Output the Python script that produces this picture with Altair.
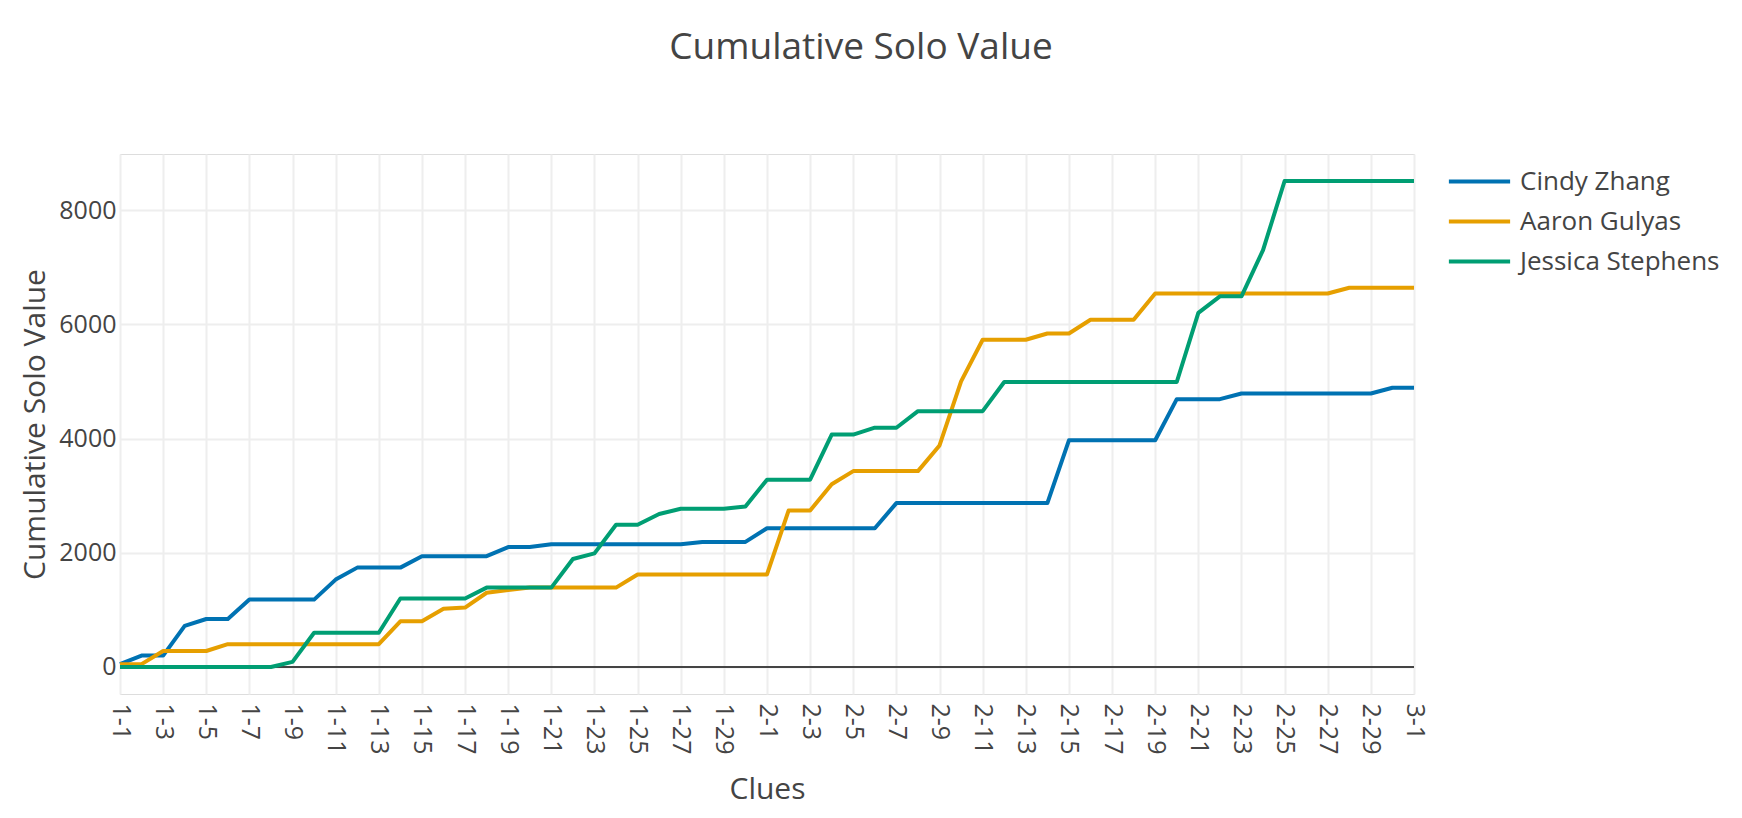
import altair as alt
import pandas as pd

clues = [
    "1-1", "1-2", "1-3", "1-4", "1-5", "1-6", "1-7", "1-8", "1-9", "1-10",
    "1-11", "1-12", "1-13", "1-14", "1-15", "1-16", "1-17", "1-18", "1-19", "1-20",
    "1-21", "1-22", "1-23", "1-24", "1-25", "1-26", "1-27", "1-28", "1-29", "1-30",
    "2-1", "2-2", "2-3", "2-4", "2-5", "2-6", "2-7", "2-8", "2-9", "2-10",
    "2-11", "2-12", "2-13", "2-14", "2-15", "2-16", "2-17", "2-18", "2-19", "2-20",
    "2-21", "2-22", "2-23", "2-24", "2-25", "2-26", "2-27", "2-28", "2-29", "2-30",
    "3-1",
]

cindy = [
    50, 200, 200, 720, 840, 840, 1180, 1180, 1180, 1180,
    1530, 1740, 1740, 1740, 1940, 1940, 1940, 1940, 2100, 2100,
    2150, 2150, 2150, 2150, 2150, 2150, 2150, 2190, 2190, 2190,
    2430, 2430, 2430, 2430, 2430, 2430, 2870, 2870, 2870, 2870,
    2870, 2870, 2870, 2870, 3970, 3970, 3970, 3970, 3970, 4690,
    4690, 4690, 4790, 4790, 4790, 4790, 4790, 4790, 4790, 4890,
    4890,
]

aaron = [
    50, 50, 280, 280, 280, 400, 400, 400, 400, 400,
    400, 400, 400, 800, 800, 1020, 1040, 1300, 1350, 1390,
    1390, 1390, 1390, 1390, 1620, 1620, 1620, 1620, 1620, 1620,
    1620, 2740, 2740, 3200, 3430, 3430, 3430, 3430, 3880, 5000,
    5730, 5730, 5730, 5840, 5840, 6080, 6080, 6080, 6540, 6540,
    6540, 6540, 6540, 6540, 6540, 6540, 6540, 6640, 6640, 6640,
    6640,
]

jessica = [
    0, 0, 0, 0, 0, 0, 0, 0, 90, 600,
    600, 600, 600, 1200, 1200, 1200, 1200, 1390, 1390, 1390,
    1390, 1890, 1990, 2490, 2490, 2680, 2770, 2770, 2770, 2810,
    3280, 3280, 3280, 4070, 4070, 4190, 4190, 4480, 4480, 4480,
    4480, 4990, 4990, 4990, 4990, 4990, 4990, 4990, 4990, 4990,
    6200, 6490, 6490, 7300, 8510, 8510, 8510, 8510, 8510, 8510,
    8510,
]

names = ["Cindy Zhang", "Aaron Gulyas", "Jessica Stephens"]
colors = ["#0072B2", "#E69F00", "#009E73"]
y_ticks = [0, 2000, 4000, 6000, 8000]

rows = []
for name, vals in zip(names, [cindy, aaron, jessica]):
    for c, v in zip(clues, vals):
        rows.append({"clue": c, "value": v, "player": name})
df = pd.DataFrame(rows)

FONT = "Open Sans"
TXT = "#444444"
Y_DOMAIN = [-473, 8983]

x_enc = alt.X(
    "clue:O",
    sort=clues,
    scale=alt.Scale(type="point", padding=0, domain=clues),
    axis=alt.Axis(
        title="Clues",
        values=clues[::2],
        labelAngle=90,
        labelFontSize=25,
        labelFont=FONT,
        labelColor=TXT,
        labelPadding=9,
        titleFontSize=30,
        titleFont=FONT,
        titleColor=TXT,
        titleFontWeight="normal",
        titlePadding=21,
        domain=False,
        ticks=False,
        grid=True,
        gridColor="#eeeeee",
        gridWidth=2,
    ),
)

y_enc = alt.Y(
    "value:Q",
    scale=alt.Scale(domain=Y_DOMAIN, nice=False, zero=False),
    axis=alt.Axis(
        title="Cumulative Solo Value",
        values=y_ticks,
        format="d",
        labelFontSize=25,
        labelFont=FONT,
        labelColor=TXT,
        labelPadding=4,
        titleFontSize=30,
        titleFont=FONT,
        titleColor=TXT,
        titleFontWeight="normal",
        titlePadding=8,
        domain=False,
        ticks=False,
        grid=True,
        gridColor="#eeeeee",
        gridWidth=2,
    ),
)

color_enc = alt.Color(
    "player:N",
    scale=alt.Scale(domain=names, range=colors),
    legend=alt.Legend(
        title=None,
        orient="none",
        legendX=1333,
        legendY=1,
        symbolType="M-1.25,0L1.25,0",
        symbolSize=2400,
        symbolStrokeWidth=4,
        symbolFillColor="transparent",
        labelFontSize=26,
        labelFont=FONT,
        labelColor=TXT,
        labelOffset=14,
        labelLimit=500,
        rowPadding=0,
        padding=0,
    ),
)

zero = alt.Chart(pd.DataFrame({"v": [0]})).mark_rule(color="#444444", strokeWidth=2).encode(
    y=alt.Y("v:Q", scale=alt.Scale(domain=Y_DOMAIN, nice=False, zero=False))
)

layers = [zero]
for name in names:
    layers.append(
        alt.Chart(df)
        .transform_filter(alt.datum.player == name)
        .mark_line(strokeWidth=4, strokeJoin="round")
        .encode(x=x_enc, y=y_enc, color=color_enc)
    )

chart = (
    alt.layer(*layers)
    .properties(
        width=1294,
        height=540,
        title=alt.TitleParams(
            text="Cumulative Solo Value",
            fontSize=37,
            font=FONT,
            color=TXT,
            fontWeight="normal",
            anchor="middle",
            frame="group",
            dx=94,
            offset=58,
            baseline="alphabetic",
        ),
        autosize=alt.AutoSizeParams(type="none"),
        padding={"left": 112, "top": 146, "right": 320, "bottom": 116},
    )
    .configure_view(stroke=None)
    .configure(font=FONT)
)

chart.save("out.html", embed_options={"renderer": "svg", "actions": False})
